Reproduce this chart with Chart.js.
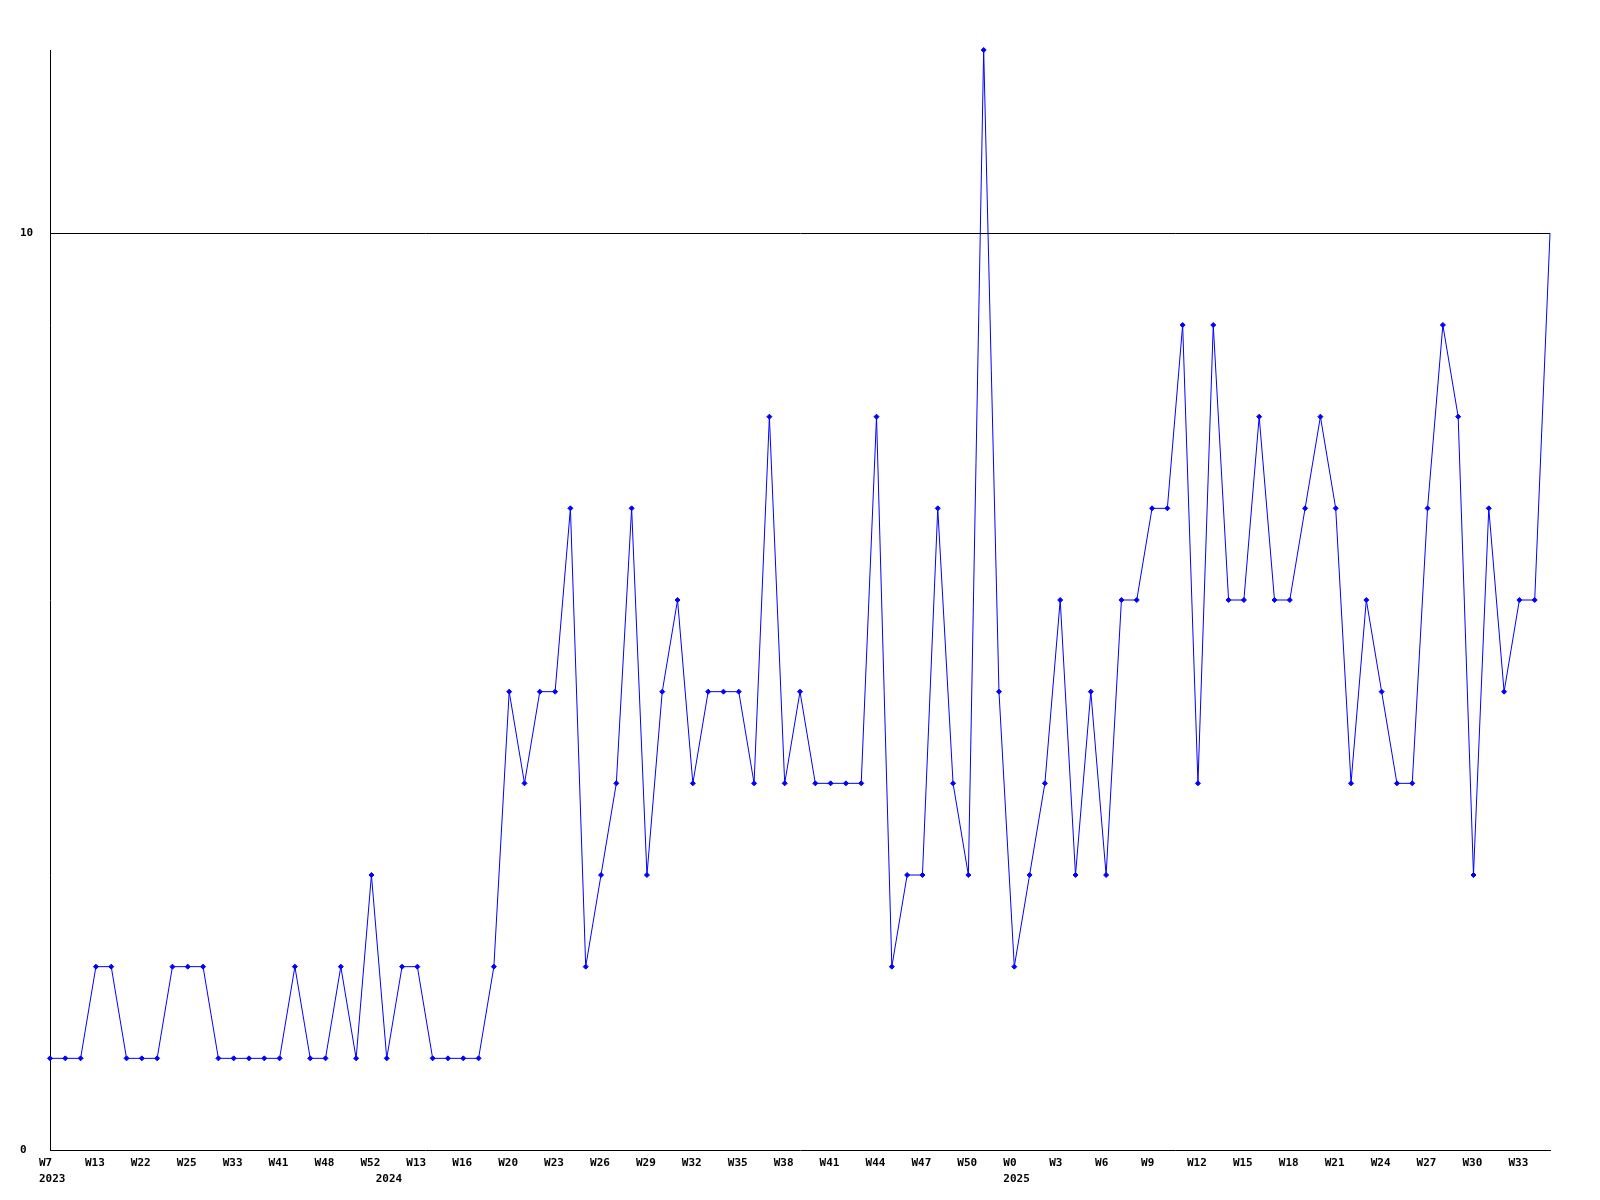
<!DOCTYPE html>
<html>
<head>
<meta charset="utf-8">
<script src="https://cdn.jsdelivr.net/npm/chart.js@4/dist/chart.umd.min.js"></script>
<style>
  html, body { margin: 0; padding: 0; background: #ffffff; }
  #wrap { width: 1600px; height: 1200px; position: relative; }
</style>
</head>
<body>
<div id="wrap"><canvas id="c" width="1600" height="1200"></canvas></div>
<script>
// Week labels shown every third point
const weekTickLabels = ['W7','W13','W22','W25','W33','W41','W48','W52','W13','W16','W20',
  'W23','W26','W29','W32','W35','W38','W41','W44','W47','W50','W0',
  'W3','W6','W9','W12','W15','W18','W21','W24','W27','W30','W33'];
// Year labels: point index -> year
const yearIndices = [0, 22, 63];
const yearLabels = ['2023', '2024', '2025'];
// Series values (one per week point)
const values = [
  1,1,1,2,2,1,1,1,2,2,
  2,1,1,1,1,1,2,1,1,2,
  1,3,1,2,2,1,1,1,1,2,
  5,4,5,5,7,2,3,4,7,3,
  5,6,4,5,5,5,4,8,4,5,
  4,4,4,4,8,2,3,3,7,4,
  3,12,5,2,3,4,6,3,5,3,
  6,6,7,7,9,4,9,6,6,8,
  6,6,7,8,7,4,6,5,4,4,
  7,9,8,3,7,5,6,6,10
];
const yTickValues = [0, 10];
const yMin = 0, yMax = 12;

const labels = values.map((v, i) => (i % 3 === 0 && weekTickLabels[i / 3] !== undefined) ? weekTickLabels[i / 3] : '');
const pointRadii = values.map((v, i) => i === values.length - 1 ? 0 : 2.5);

const fontSpec = { family: "'DejaVu Sans Mono', 'Liberation Mono', monospace", size: 11, weight: 'bold', lineHeight: 1.45 };

new Chart(document.getElementById('c'), {
  type: 'line',
  data: {
    labels: labels,
    datasets: [{
      data: values,
      borderColor: '#0000ff',
      backgroundColor: '#0000ff',
      borderWidth: 1,
      pointStyle: 'rectRot',
      pointRadius: pointRadii,
      pointHoverRadius: pointRadii,
      pointBorderWidth: 1,
      pointBackgroundColor: '#0000ff',
      pointBorderColor: '#0000ff',
      tension: 0,
      fill: false,
      clip: false
    }]
  },
  options: {
    responsive: false,
    animation: false,
    events: [],
    layout: { padding: { left: 20, top: 50, right: 50, bottom: 0 } },
    plugins: { legend: { display: false }, tooltip: { enabled: false } },
    scales: {
      x: {
        type: 'category',
        offset: false,
        grid: { display: false, drawTicks: false },
        border: { display: true, color: '#000000', width: 1 },
        ticks: {
          autoSkip: false,
          maxRotation: 0,
          minRotation: 0,
          align: 'start',
          labelOffset: -11,
          padding: 5,
          color: '#000000',
          font: fontSpec,
          callback: function(val, index) {
            const w = labels[index] || '';
            const yi = yearIndices.indexOf(index);
            const y = yi >= 0 ? yearLabels[yi] : '';
            if (!w && !y) return '';
            return [w, y];
          }
        },
        afterFit: function(scale) { scale.height = 50; }
      },
      y: {
        min: yMin,
        max: yMax,
        grid: {
          display: true,
          drawTicks: false,
          color: function(ctx) { return ctx.tick && ctx.tick.value === 10 ? '#000000' : 'rgba(0,0,0,0)'; },
          lineWidth: 1
        },
        border: { display: true, color: '#000000', width: 1 },
        afterBuildTicks: function(scale) { scale.ticks = yTickValues.map(v => ({ value: v })); },
        ticks: {
          crossAlign: 'far',
          padding: 0,
          color: '#000000',
          font: fontSpec,
          callback: function(v) { return String(v); }
        },
        afterFit: function(scale) { scale.width = 30; }
      }
    }
  }
});
</script>
</body>
</html>
